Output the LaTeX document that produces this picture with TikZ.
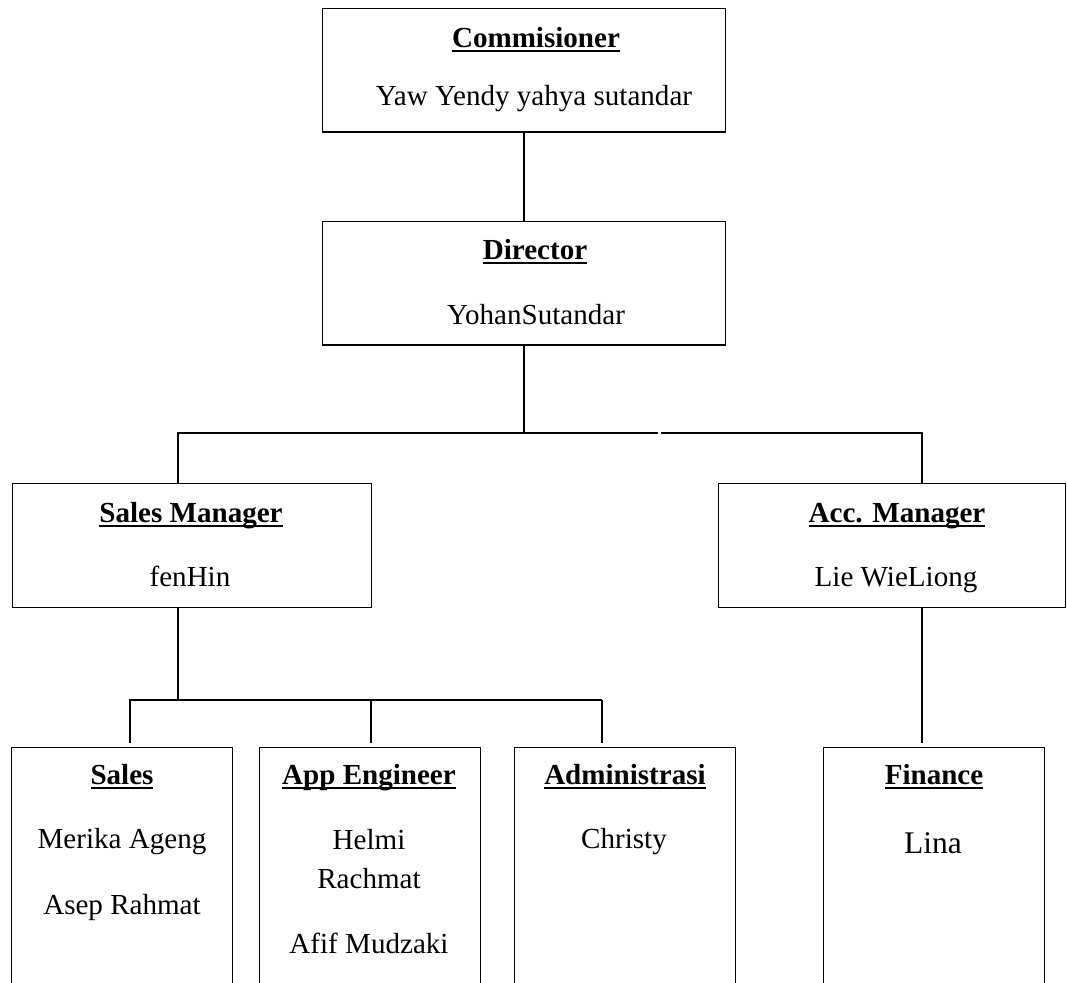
\documentclass[tikz,border=0pt]{standalone}
\usepackage{fontspec}
\setmainfont{Liberation Serif}
\newcommand{\myul}[1]{\setbox0\hbox{\textbf{#1}}\rlap{\rule[-3.4pt]{\wd0}{1.5pt}}\box0}
\begin{document}
\begin{tikzpicture}[x=0.75pt,y=-0.75pt,
  box/.style={draw, line width=0.9pt, rectangle, inner sep=0pt, anchor=north west},
  topbox/.style={box, minimum width=302.25pt, minimum height=92.5pt},
  midbox/.style={box, minimum height=93pt},
  lowbox/.style={box, minimum width=165.75pt, minimum height=190pt},
  conn/.style={draw, line width=1pt},
  lbl/.style={anchor=base, inner sep=0pt, font=\fontsize{21.8}{26}\selectfont},
  big/.style={anchor=base, inner sep=0pt, font=\fontsize{23.6}{28}\selectfont}]
\clip (0,0) rectangle (1067,982);
\fill[white] (0,0) rectangle (1067,982);

% boxes
\node[topbox] (com) at (322,8) {};
\node[topbox] (dir) at (322,221) {};
\node[midbox, minimum width=269.25pt] (sm) at (12,483) {};
\node[midbox, minimum width=260.25pt] (am) at (718,483) {};
\node[lowbox] (sales) at (11,747) {};
\node[lowbox] (app) at (259,747) {};
\node[lowbox] (adm) at (514,747) {};
\node[lowbox] (fin) at (823,747) {};

% texts
\node[lbl] (comT) at (536,47) {\myul{Commisioner}};
\node[lbl] (comN) at (534,105) {Yaw Yendy yahya sutandar};
\node[lbl] (dirT) at (535,259) {\myul{Director}};
\node[lbl] (dirN) at (536,324) {YohanSutandar};
\node[lbl] (smT) at (191,522) {\myul{Sales Manager}};
\node[lbl] (smN) at (190,586) {fenHin};
\node[lbl] (amT) at (897,522) {\myul{Acc. Manager}};
\node[lbl] (amN) at (896,586) {Lie WieLiong};
\node[lbl] (salesT) at (122,784) {\myul{Sales}};
\node[lbl] (salesN1) at (122,848) {Merika Ageng};
\node[lbl] (salesN2) at (122,914) {Asep Rahmat};
\node[lbl] (appT) at (369,784) {\myul{App Engineer}};
\node[lbl] (appN1) at (369,849) {Helmi};
\node[lbl] (appN2) at (369,888) {Rachmat};
\node[lbl] (appN3) at (369,953) {Afif Mudzaki};
\node[lbl] (admT) at (625,784) {\myul{Administrasi}};
\node[lbl] (admN) at (624,848) {Christy};
\node[lbl] (finT) at (934,784) {\myul{Finance}};
\node[big] (finN) at (933,853) {Lina};

% bus coordinates
\coordinate (b1L) at (178,433);
\coordinate (b1gL) at (658,433);
\coordinate (b1gR) at (661,433);
\coordinate (b1R) at (922,433);
\coordinate (b2L) at (130,700);
\coordinate (b2M) at (371,700);
\coordinate (b2R) at (602,700);

% connectors
\draw[conn] (com.south) -- (dir.north);
\draw[conn] (dir.south) -- (dir.south |- b1L);
\draw[conn] (sm.north -| b1L) -- (b1L) -- (b1gL);
\draw[conn] (b1gR) -- (b1R) -- (am.north -| b1R);
\draw[conn] (sm.south -| b1L) -- (b1L |- b2L);
\draw[conn, shorten <=3pt] (sales.north -| b2L) -- (b2L) -- (b2R);
\draw[conn, shorten <=3pt] (app.north -| b2M) -- (b2M);
\draw[conn, shorten >=3pt] (b2R) -- (adm.north -| b2R);
\draw[conn, shorten >=3pt] (am.south -| b1R) -- (fin.north -| b1R);
\end{tikzpicture}
\end{document}
